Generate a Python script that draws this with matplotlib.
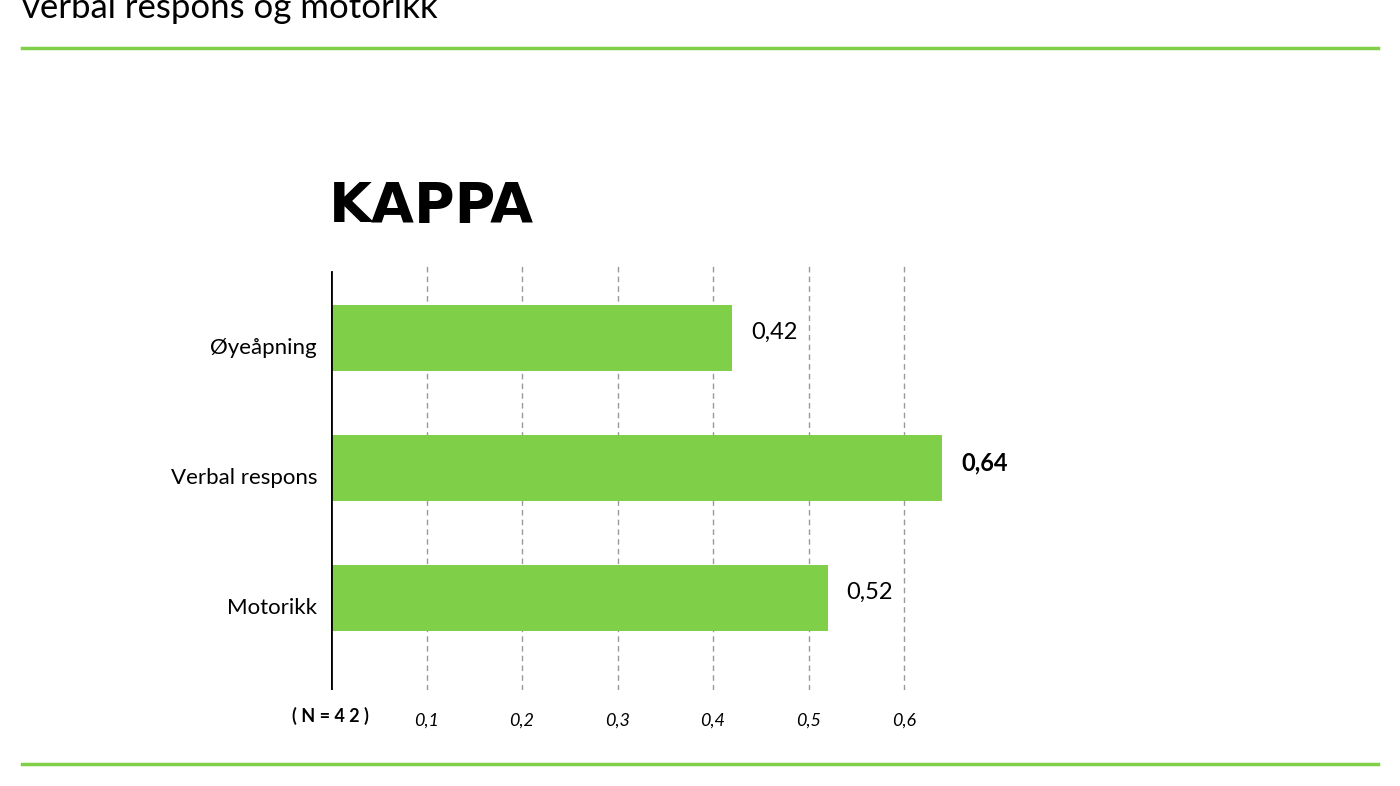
import matplotlib.pyplot as plt

plt.rcParams['font.family'] = 'Lato'

categories = ["Øyeåpning", "Verbal respons", "Motorikk"]
values = [0.42, 0.64, 0.52]
value_labels = ["0,42", "0,64", "0,52"]
bold_flags = [False, True, False]
ticks = [0.1, 0.2, 0.3, 0.4, 0.5, 0.6]
tick_labels = ["0,1", "0,2", "0,3", "0,4", "0,5", "0,6"]

green = "#7fcf48"
W, H = 1400, 786
fig = plt.figure(figsize=(14, 7.86), dpi=100)

# page header and frame lines
fig.text(22 / W, 1 - 8 / H, "verbal respons og motorikk", fontsize=25, va="center", ha="left")
for yp in (48, 764):
    fig.add_artist(plt.Line2D([22 / W, 1378 / W], [1 - yp / H] * 2, color=green, lw=2.5))

ax = fig.add_axes([331 / W, 1 - 690 / H, 668.5 / W, 427 / H])
pos = list(range(len(categories)))
ax.barh(pos, values, height=0.508, color=green, zorder=2)
ax.set_xlim(0, 0.7)
ax.set_ylim(2.708, -0.577)

for t in ticks:
    ax.axvline(t, color="#999999", ls=(0, (4, 3)), lw=1, zorder=1)
ax.axvline(0, ymin=0, ymax=418 / 427, color="black", lw=2, zorder=3)

for s in ax.spines.values():
    s.set_visible(False)
ax.set_yticks(pos)
ax.set_yticklabels(categories, fontsize=16, va="top")
ax.tick_params(axis="y", length=0, pad=10)
for lab in ax.get_yticklabels():
    lab.set_y(lab.get_position()[1])
ax.set_yticklabels(categories, fontsize=16)
ax.tick_params(axis="x", length=0, pad=16)
ax.set_xticks(ticks)
ax.set_xticklabels(tick_labels, fontsize=13, style="italic")

for p, v, lab, b in zip(pos, values, value_labels, bold_flags):
    ax.text(v + 0.02, p - 0.04, lab, fontsize=17, va="center",
            fontweight="bold" if b else "normal")

fig.text(330 / W, 1 - 716 / H, "( N = 4 2 )", fontsize=13, fontweight="bold",
         ha="center", va="center")
fig.text(329 / W, 1 - 207 / H, "KAPPA", fontsize=40, fontweight="bold",
         family="Liberation Sans Narrow", ha="left", va="center")

fig.savefig("out.png", dpi=100)
